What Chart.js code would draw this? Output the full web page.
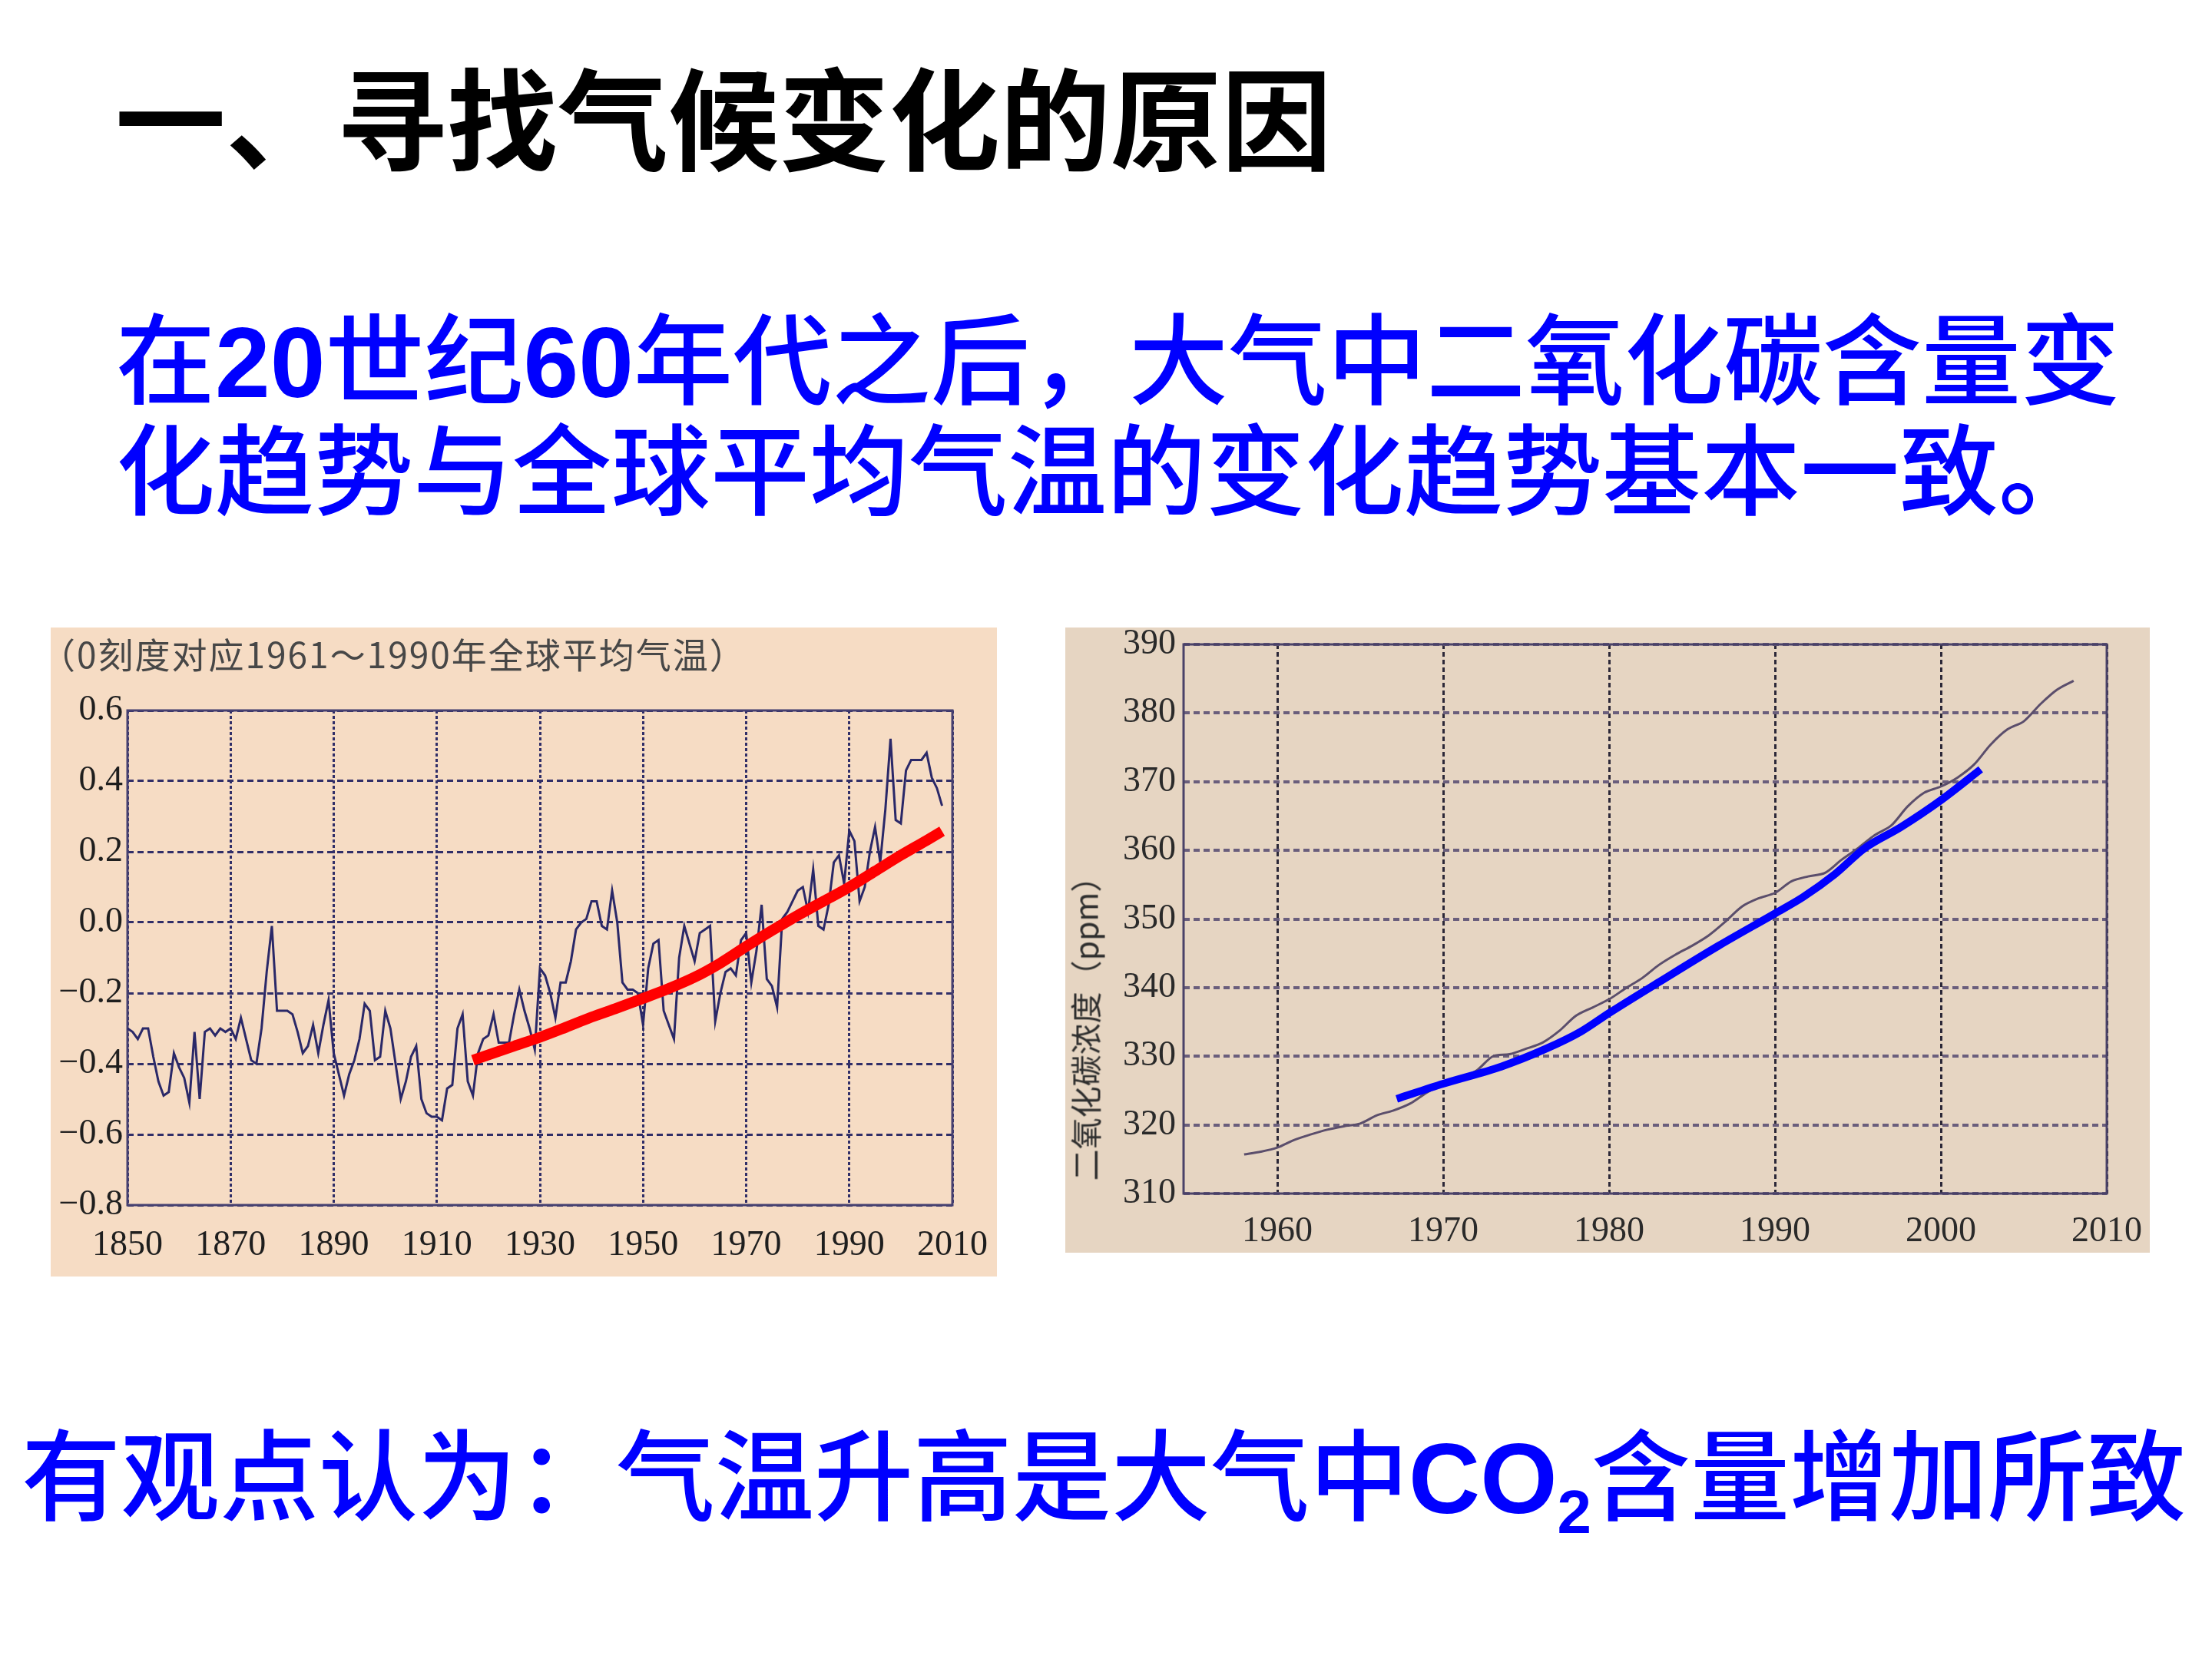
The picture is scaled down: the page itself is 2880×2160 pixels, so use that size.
<!DOCTYPE html>
<html><head><meta charset="utf-8">
<script src="https://cdn.jsdelivr.net/npm/chart.js@4.4.1/dist/chart.umd.min.js"></script>
<style>
html,body{margin:0;padding:0;}
body{width:2880px;height:2160px;background:#fff;position:relative;overflow:hidden;}
.txt{position:absolute;white-space:nowrap;line-height:1;font-family:"Noto Sans CJK SC",sans-serif;}
.blue{color:#0000ff;font-size:129px;font-weight:500;}
.blue b{font-family:"Liberation Sans",Arial,sans-serif;font-weight:bold;}
.blue sub{font-size:0.62em;vertical-align:-0.32em;line-height:0;}
#title{left:150px;top:76px;font-size:144px;font-weight:bold;color:#000;}
#l1{left:151px;top:396px;}
#l2{left:151px;top:540px;}
#l3{left:28px;top:1849px;}
.panel{position:absolute;}
#p1{left:66px;top:817px;width:1232px;height:845px;background:#f6dcc4;}
#p2{left:1387px;top:817px;width:1412px;height:814px;background:#e6d5c2;}
#cap{position:absolute;left:-14px;top:10px;font-size:46px;letter-spacing:2px;color:#474747;line-height:1;font-family:"Noto Sans CJK SC",serif;white-space:nowrap;}
#ytitle{position:absolute;left:25px;top:512px;transform:translate(-50%,-50%) rotate(-90deg);font-size:41px;color:#2e2e2e;line-height:1;font-family:"Noto Sans CJK SC",serif;white-space:nowrap;}
canvas{position:absolute;left:0;top:0;}
</style></head>
<body>
<div class="txt" id="title">一、寻找气候变化的原因</div>
<div class="txt blue" id="l1">在<b>20</b>世纪<b>60</b>年代之后，大气中二氧化碳含量变</div>
<div class="txt blue" id="l2">化趋势与全球平均气温的变化趋势基本一致。</div>
<div class="panel" id="p1"><canvas id="c1" width="1232" height="845"></canvas><div id="cap"></div></div>
<div class="panel" id="p2"><canvas id="c2" width="1412" height="814"></canvas><div id="ytitle"></div></div>
<div class="txt blue" id="l3">有观点认为：气温升高是大气中<b>CO<sub>2</sub></b>含量增加所致</div>
<script>
// ---------- Chart 1: global temperature anomaly ----------
const tempYears = [
1850,1851,1852,1853,1854,1855,1856,1857,1858,1859,
1860,1861,1862,1863,1864,1865,1866,1867,1868,1869,
1870,1871,1872,1873,1874,1875,1876,1877,1878,1879,
1880,1881,1882,1883,1884,1885,1886,1887,1888,1889,
1890,1891,1892,1893,1894,1895,1896,1897,1898,1899,
1900,1901,1902,1903,1904,1905,1906,1907,1908,1909,
1910,1911,1912,1913,1914,1915,1916,1917,1918,1919,
1920,1921,1922,1923,1924,1925,1926,1927,1928,1929,
1930,1931,1932,1933,1934,1935,1936,1937,1938,1939,
1940,1941,1942,1943,1944,1945,1946,1947,1948,1949,
1950,1951,1952,1953,1954,1955,1956,1957,1958,1959,
1960,1961,1962,1963,1964,1965,1966,1967,1968,1969,
1970,1971,1972,1973,1974,1975,1976,1977,1978,1979,
1980,1981,1982,1983,1984,1985,1986,1987,1988,1989,
1990,1991,1992,1993,1994,1995,1996,1997,1998,1999,
2000,2001,2002,2003,2004,2005,2006,2007,2008];
const tempValues = [
-0.30,-0.31,-0.33,-0.30,-0.30,-0.38,-0.45,-0.49,-0.48,-0.37,
-0.41,-0.44,-0.51,-0.31,-0.50,-0.31,-0.30,-0.32,-0.30,-0.31,
-0.30,-0.33,-0.27,-0.33,-0.39,-0.40,-0.30,-0.14,-0.01,-0.25,
-0.25,-0.25,-0.26,-0.31,-0.37,-0.35,-0.29,-0.37,-0.29,-0.22,
-0.37,-0.43,-0.49,-0.43,-0.39,-0.33,-0.23,-0.25,-0.39,-0.38,
-0.25,-0.30,-0.40,-0.50,-0.45,-0.38,-0.35,-0.50,-0.54,-0.55,
-0.55,-0.56,-0.47,-0.46,-0.30,-0.26,-0.45,-0.49,-0.37,-0.33,
-0.32,-0.26,-0.34,-0.34,-0.34,-0.26,-0.19,-0.25,-0.30,-0.36,
-0.13,-0.15,-0.20,-0.27,-0.17,-0.17,-0.11,-0.02,0.00,0.01,
0.06,0.06,-0.01,-0.02,0.09,0.00,-0.17,-0.19,-0.19,-0.20,
-0.29,-0.13,-0.06,-0.05,-0.25,-0.29,-0.33,-0.10,-0.01,-0.06,
-0.11,-0.03,-0.02,-0.01,-0.28,-0.20,-0.14,-0.13,-0.15,-0.05,
-0.03,-0.17,-0.08,0.05,-0.16,-0.18,-0.24,0.01,0.03,0.06,
0.09,0.10,0.03,0.15,-0.01,-0.02,0.05,0.17,0.19,0.11,
0.26,0.23,0.06,0.10,0.20,0.27,0.17,0.32,0.52,0.29,
0.28,0.43,0.46,0.46,0.46,0.48,0.41,0.38,0.33];
const tempTrendYears = [1917,1925,1930,1935,1940,1945,1950,1955,1960,1965,1970,1975,1980,1985,1990,1995,2000,2005,2008];
const tempTrendValues = [-0.39,-0.35,-0.325,-0.297,-0.268,-0.242,-0.215,-0.187,-0.155,-0.115,-0.068,-0.023,0.02,0.06,0.10,0.145,0.19,0.232,0.258];
const tempXTicks = [1850,1870,1890,1910,1930,1950,1970,1990,2010];
const tempYTicks = [-0.8,-0.6,-0.4,-0.2,0.0,0.2,0.4,0.6];
const tempCaption = "（0刻度对应1961～1990年全球平均气温）";

// ---------- Chart 2: CO2 concentration ----------
const co2Years = [
1958,1959,1960,1961,1962,1963,1964,1965,1966,1967,
1968,1969,1970,1971,1972,1973,1974,1975,1976,1977,
1978,1979,1980,1981,1982,1983,1984,1985,1986,1987,
1988,1989,1990,1991,1992,1993,1994,1995,1996,1997,
1998,1999,2000,2001,2002,2003,2004,2005,2006,2007,2008];
const co2Values = [
315.7,316.1,316.7,317.8,318.6,319.3,319.8,320.2,321.4,322.1,
323.1,324.7,326.0,326.8,327.9,330.0,330.3,331.1,332.0,333.7,
335.9,337.1,338.3,339.9,341.4,343.3,344.8,346.1,347.6,349.6,
351.8,353.0,353.8,355.5,356.2,356.7,358.6,360.3,362.2,363.6,
366.4,368.4,369.3,370.6,372.5,375.4,377.6,378.8,381.3,383.4,384.7];
const co2TrendYears = [1967.2,1970,1973.5,1976.2,1978.3,1980,1983,1986.6,1990,1991.7,1993.6,1995.4,1997.6,2000,2002.4];
const co2TrendValues = [323.8,326.0,328.5,331.1,333.6,336.3,340.8,346.1,350.8,353.2,356.5,360.3,363.4,367.3,371.8];
const co2XTicks = [1960,1970,1980,1990,2000,2010];
const co2YTicks = [310,320,330,340,350,360,370,380,390];
const co2AxisTitle = "二氧化碳浓度（ppm）";

document.getElementById('cap').textContent = tempCaption;
document.getElementById('ytitle').textContent = co2AxisTitle;

const pts = (xs, ys) => xs.map((x, i) => ({x: x, y: ys[i]}));

const framePlugin = {
  id: 'frame',
  beforeDatasetsDraw(chart, args, opts) {
    const a = chart.chartArea, ctx = chart.ctx;
    ctx.save();
    ctx.strokeStyle = opts.color;
    ctx.lineWidth = opts.width;
    ctx.strokeRect(a.left, a.top, a.right - a.left, a.bottom - a.top);
    ctx.restore();
  }
};

const noPad = s => { s.paddingLeft = 0; s.paddingRight = 0; s.paddingTop = 0; s.paddingBottom = 0; };
const tickFont = {family: '"Liberation Serif", "DejaVu Serif", serif', size: 46};

new Chart(document.getElementById('c1'), {
  type: 'line',
  data: {
    datasets: [
      {data: pts(tempYears, tempValues), borderColor: '#2a2868', borderWidth: 3, pointRadius: 0, tension: 0, order: 2},
      {data: pts(tempTrendYears, tempTrendValues), borderColor: '#ff0000', borderWidth: 14, pointRadius: 0, cubicInterpolationMode: 'monotone', borderCapStyle: 'butt', order: 1}
    ]
  },
  plugins: [framePlugin],
  options: {
    responsive: false, animation: false, devicePixelRatio: 1,
    layout: {padding: {left: 0, right: 58, top: 108, bottom: 0}},
    plugins: {legend: {display: false}, tooltip: {enabled: false}, frame: {color: '#464070', width: 3}},
    scales: {
      x: {
        type: 'linear', min: 1850, max: 2010,
        afterBuildTicks: s => { s.ticks = tempXTicks.map(v => ({value: v})); },
        afterFit: s => { s.height = 93; noPad(s); },
        grid: {color: '#302e68', lineWidth: 3, drawTicks: false},
        border: {display: false, dash: [4, 3]},
        ticks: {font: tickFont, color: '#1e1e1e', padding: 25, maxRotation: 0, autoSkip: false, callback: v => String(v)}
      },
      y: {
        type: 'linear', min: -0.8, max: 0.6,
        afterBuildTicks: s => { s.ticks = tempYTicks.map(v => ({value: v})); },
        afterFit: s => { s.width = 100; noPad(s); },
        grid: {color: '#302e68', lineWidth: 3, drawTicks: false},
        border: {display: false, dash: [8, 5]},
        ticks: {font: tickFont, color: '#1e1e1e', padding: 6, autoSkip: false,
          callback: v => (v < -1e-9 ? '\u2212' : '') + Math.abs(v).toFixed(1)}
      }
    }
  }
});

new Chart(document.getElementById('c2'), {
  type: 'line',
  data: {
    datasets: [
      {data: pts(co2Years, co2Values), borderColor: '#5b4e6c', borderWidth: 3, pointRadius: 0, tension: 0.3, order: 2},
      {data: pts(co2TrendYears, co2TrendValues), borderColor: '#0000ff', borderWidth: 10, pointRadius: 0, cubicInterpolationMode: 'monotone', borderCapStyle: 'butt', order: 1}
    ]
  },
  plugins: [framePlugin],
  options: {
    responsive: false, animation: false, devicePixelRatio: 1,
    layout: {padding: {left: 0, right: 56, top: 22, bottom: 0}},
    plugins: {legend: {display: false}, tooltip: {enabled: false}, frame: {color: '#4a4268', width: 3}},
    scales: {
      x: {
        type: 'linear', min: 1954.35, max: 2010,
        afterBuildTicks: s => { s.ticks = co2XTicks.map(v => ({value: v})); },
        afterFit: s => { s.height = 77; noPad(s); },
        grid: {color: '#2c2838', lineWidth: 3, drawTicks: false},
        border: {display: false, dash: [6, 4]},
        ticks: {font: tickFont, color: '#2a2a2a', padding: 22, maxRotation: 0, autoSkip: false, callback: v => String(v)}
      },
      y: {
        type: 'linear', min: 310, max: 390,
        afterBuildTicks: s => { s.ticks = co2YTicks.map(v => ({value: v})); },
        afterFit: s => { s.width = 154; noPad(s); },
        grid: {color: '#6a5e7c', lineWidth: 4, drawTicks: false},
        border: {display: false, dash: [8, 5]},
        ticks: {font: tickFont, color: '#2a2a2a', padding: 10, autoSkip: false, callback: v => String(v)}
      }
    }
  }
});
</script>
</body></html>
